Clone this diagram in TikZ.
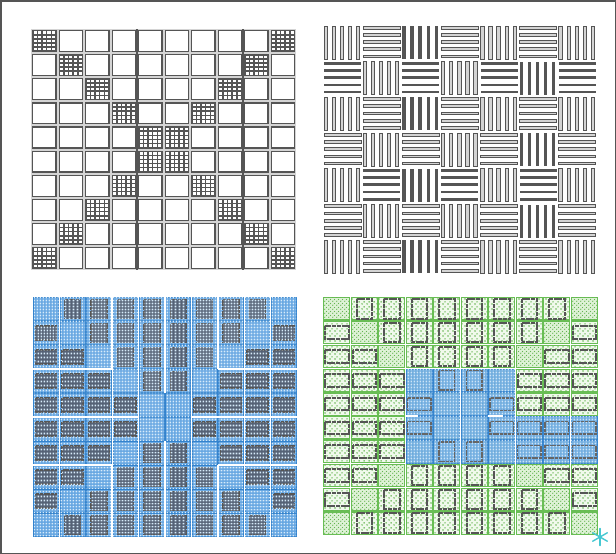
\documentclass[tikz,border=0pt]{standalone}
\usetikzlibrary{patterns,calc}
\definecolor{dk}{RGB}{85,85,85}
\definecolor{lg}{RGB}{212,212,212}
\definecolor{bl}{RGB}{50,130,205}
\definecolor{blf}{RGB}{100,165,225}
\definecolor{bld}{RGB}{215,235,250}
\definecolor{bin}{RGB}{85,98,118}
\definecolor{gr}{RGB}{105,190,85}
\definecolor{grf}{RGB}{222,242,214}
\definecolor{grs}{RGB}{240,249,236}
\definecolor{grd}{RGB}{100,180,80}
\definecolor{cy}{RGB}{70,200,210}
\pgfdeclarepatternformonly{wdots}{\pgfqpoint{0pt}{0pt}}{\pgfqpoint{3.4pt}{3.4pt}}{\pgfqpoint{3.4pt}{3.4pt}}{%
  \pgfpathrectangle{\pgfqpoint{0.7pt}{0.7pt}}{\pgfqpoint{1.9pt}{1.9pt}}\pgfusepath{fill}}
\pgfdeclarepatternformonly{gdense}{\pgfqpoint{0pt}{0pt}}{\pgfqpoint{4pt}{4pt}}{\pgfqpoint{4pt}{4pt}}{%
  \pgfpathcircle{\pgfqpoint{1pt}{1pt}}{0.8pt}\pgfpathcircle{\pgfqpoint{3pt}{3pt}}{0.8pt}\pgfusepath{fill}}
\pgfdeclarepatternformonly{gsparse}{\pgfqpoint{0pt}{0pt}}{\pgfqpoint{4.5pt}{4.5pt}}{\pgfqpoint{4.5pt}{4.5pt}}{%
  \pgfpathcircle{\pgfqpoint{1.1pt}{1.1pt}}{0.85pt}\pgfpathcircle{\pgfqpoint{3.35pt}{3.35pt}}{0.85pt}\pgfusepath{fill}}
\tikzset{
  tlband/.style={fill=lg},
  tlcell/.style={fill=white, draw=dk, line width=1.2pt},
  tlthick/.style={draw=dk, line width=2.4pt},
  barlight/.style={fill=lg, draw=dk, line width=0.7pt},
  bardark/.style={fill=dk},
  bcell/.style={fill=blf, draw=bl, line width=1pt, postaction={pattern=wdots, pattern color=bld}},
  binner/.style={fill=bin, draw=dk, line width=1.4pt, dash pattern=on 3pt off 0.7pt, postaction={pattern=wdots, pattern color=bld}},
  bgap/.style={draw=white, line width=1.6pt},
  gcell/.style={fill=grs, draw=gr, line width=1.1pt, postaction={pattern=gsparse, pattern color=grd}},
  gdcell/.style={fill=grf, draw=gr, line width=1.1pt, postaction={pattern=gdense, pattern color=grd}},
  ginner/.style={draw=dk, line width=2pt, dash pattern=on 4pt off 0.7pt},
  ocell/.style={fill=blf, fill opacity=0.9, draw=bl, line width=1pt, postaction={pattern=wdots, pattern color=bld}},
  oinner/.style={draw=dk!90, line width=1.6pt, dash pattern=on 3pt off 0.8pt},
  star/.style={draw=cy, line width=1.4pt, line cap=round},
  frame/.style={draw=dk, line width=1.5pt}
}
\begin{document}
\begin{tikzpicture}[x=1pt,y=-1pt]
\useasboundingbox (0,0) rectangle (616,554);
\fill[white] (0,0) rectangle (616,554);
\draw[frame] (0.75,0.75) rectangle (615.25,553.25);

% ---------- top-left grid ----------
\path[tlband] (31,29) rectangle (296,270);
\foreach \r in {0,...,9}{
  \foreach \c in {0,...,9}{
    \pgfmathsetmacro\xa{31+\c*26.5}
    \pgfmathsetmacro\ya{29+\r*24.1}
    \pgfmathtruncatemacro\dg{(\r==\c)||(\r+\c==9)}
    \path[tlcell] (\xa+1.6,\ya+1.6) rectangle (\xa+24.9,\ya+22.5);
    \ifnum\dg=1
      \fill[dk] (\xa+1.6,\ya+1.6) rectangle (\xa+24.9,\ya+22.5);
      \foreach \i in {0,...,4}{\foreach \j in {0,...,4}{
        \fill[white] (\xa+2.6+\i*4.6,\ya+2.4+\j*4.1) rectangle ++(3.1,2.6);
      }}
      \draw[dk, line width=1.2pt] (\xa+1.6,\ya+1.6) rectangle (\xa+24.9,\ya+22.5);
    \fi
  }
}
\draw[tlthick] (137,29) -- (137,270);
\draw[tlthick] (243,29) -- (243,270);

% ---------- top-right basket weave ----------
\foreach \r in {0,...,6}{
  \foreach \c in {0,...,6}{
    \pgfmathsetmacro\xa{323+\c*39.14}
    \pgfmathsetmacro\ya{25+\r*35.71}
    \pgfmathtruncatemacro\vt{mod(\r+\c,2)==0}
    \pgfmathtruncatemacro\dkb{(\r==0&&\c==2)||(\r==1&&(\c==0||\c==2||\c==4||\c==5||\c==6))||(\r==2&&\c==2)||(\r==3&&\c==5)||(\r==4&&(\c==1||\c==2||\c==3||\c==5))||(\r==5&&\c==5)||(\r==6&&\c==2)}
    \ifnum\dkb=1 \tikzset{curbar/.style={bardark}}\else\tikzset{curbar/.style={barlight}}\fi
    \ifnum\vt=1
      \foreach \i in {0,...,4}{\path[curbar] (\xa+1+\i*8.1,\ya+1) rectangle ++(3.3,33);}
    \else
      \foreach \i in {0,...,4}{\path[curbar] (\xa+1,\ya+1.2+\i*7.2) rectangle ++(37,2.7);}
    \fi
  }
}

% ---------- bottom-left blue ----------
\foreach \r in {0,...,9}{
  \foreach \c in {0,...,9}{
    \pgfmathsetmacro\xa{33+\c*26.4}
    \pgfmathsetmacro\ya{297+\r*24}
    \pgfmathtruncatemacro\dg{(\r==\c)||(\r+\c==9)}
    \pgfmathtruncatemacro\vt{((\r<\c)&&(\r+\c<9))||((\r>\c)&&(\r+\c>9))}
    \path[bcell] (\xa+0.8,\ya+0.8) rectangle (\xa+25.6,\ya+23.2);
    \ifnum\dg=0
      \ifnum\vt=1
        \path[binner] (\xa+5.2,\ya+2.5) rectangle (\xa+21.2,\ya+21.5);
      \else
        \path[binner] (\xa+2.7,\ya+5) rectangle (\xa+23.7,\ya+19);
      \fi
    \fi
  }
}
% white gaps
\draw[bgap] (112.2,297) -- (112.2,369) (112.2,465) -- (112.2,537);
\draw[bgap] (217.8,297) -- (217.8,369) (217.8,465) -- (217.8,537);
\draw[bgap] (165,297) -- (165,393) (165,441) -- (165,537);
\draw[bgap] (33,369) -- (112,369) (218,369) -- (297,369);
\draw[bgap] (33,465) -- (112,465) (218,465) -- (297,465);
\draw[bgap] (33,417) -- (139,417) (191,417) -- (297,417);

% ---------- bottom-right green ----------
\foreach \r in {0,...,9}{
  \foreach \c in {0,...,9}{
    \pgfmathsetmacro\xa{323+\c*27.5}
    \pgfmathsetmacro\ya{297+\r*23.8}
    \pgfmathtruncatemacro\dg{(\r==\c)||(\r+\c==9)}
    \pgfmathtruncatemacro\vt{((\r<\c)&&(\r+\c<9))||((\r>\c)&&(\r+\c>9))}
    \ifnum\dg=1
      \path[gdcell] (\xa+0.8,\ya+0.8) rectangle (\xa+26.7,\ya+23);
    \else
      \path[gcell] (\xa+0.8,\ya+0.8) rectangle (\xa+26.7,\ya+23);
      \ifnum\vt=1
        \path[ginner] (\xa+6,\ya+2.2) rectangle (\xa+21.5,\ya+21.6);
      \else
        \path[ginner] (\xa+2,\ya+5.6) rectangle (\xa+25.5,\ya+18.2);
      \fi
    \fi
  }
}
% blue overlay
\foreach \r/\c in {3/3,3/4,3/5,3/6,4/3,4/4,4/5,4/6,5/3,5/4,5/5,5/6,6/3,6/4,6/5,6/6,5/7,5/8,5/9,6/7,6/8,6/9}{
  \pgfmathsetmacro\xa{323+\c*27.5}
  \pgfmathsetmacro\ya{297+\r*23.8}
  \pgfmathtruncatemacro\dg{(\r==\c)||(\r+\c==9)}
  \pgfmathtruncatemacro\vt{((\r<\c)&&(\r+\c<9))||((\r>\c)&&(\r+\c>9))}
  \path[ocell] (\xa+0.6,\ya+0.6) rectangle (\xa+26.9,\ya+23.2);
  \ifnum\dg=0
    \ifnum\vt=1
      \path[oinner] (\xa+6,\ya+2.2) rectangle (\xa+21.5,\ya+21.6);
    \else
      \path[oinner] (\xa+2,\ya+5.6) rectangle (\xa+25.5,\ya+18.2);
    \fi
  \fi
}
\draw[bgap] (460.5,367) -- (460.5,380) (460.5,449) -- (460.5,464);
\draw[bgap] (406,416) -- (418,416) (488,416) -- (503,416);
\draw[bgap] (460.5,297) -- (460.5,366) (460.5,465) -- (460.5,535);

% ---------- asterisk ----------
\coordinate (st) at (600,537);
\draw[star] ($(st)+(0,-8.5)$) -- ($(st)+(0,8.5)$);
\draw[star] ($(st)+(30:8.5)$) -- ($(st)+(210:8.5)$);
\draw[star] ($(st)+(150:8.5)$) -- ($(st)+(330:8.5)$);
\end{tikzpicture}
\end{document}
